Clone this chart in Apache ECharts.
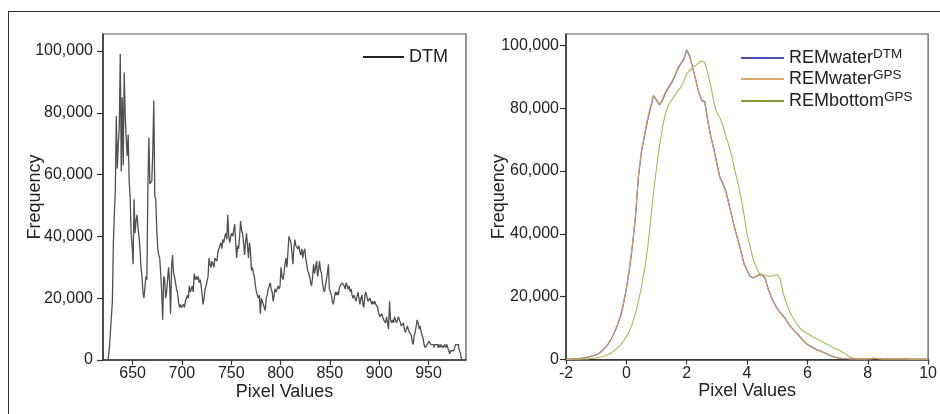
<!DOCTYPE html>
<html>
<head>
<meta charset="utf-8">
<script src="https://cdn.jsdelivr.net/npm/echarts@6/dist/echarts.min.js"></script>
<style>
  html, body { margin: 0; padding: 0; background: #fff; }
  #chart { width: 940px; height: 414px; }
</style>
</head>
<body>
<div id="chart"></div>
<script>
// ---- Left panel: DTM histogram (counts in thousands, one bin per pixel value) ----
const dtmFirstBin = 625;
const dtmCountsK = [
  0,1,4,9,14,19,38,47,55,79,
  62,70,75,99,61,85,63,93,79,72,
  66,73,58,53,41,37,31,52,41,45,
  47,43,40,36,30,27,22,20,20,27,
  26,56,72,57,57,58,68,84,53,52,
  42,36,34,33,28,22,13,27,26,20,
  22,22,30,25,15,30,34,28,27,25,
  23,22,19,17,18,17,17,18,17,19,
  19,21,20,24,22,23,24,22,28,26,
  27,26,27,25,26,24,21,18,20,23,
  24,24,27,33,31,30,32,31,30,33,
  33,32,35,36,37,38,36,39,38,40,
  41,39,47,40,38,40,41,40,42,44,
  38,33,37,36,40,45,42,41,38,34,
  38,41,37,33,38,35,29,30,28,27,
  24,22,21,20,21,15,20,19,19,17,
  16,20,21,23,24,25,23,22,19,21,
  23,22,22,24,23,24,30,27,26,28,
  31,33,30,35,40,39,38,35,31,36,
  39,37,37,36,37,35,34,36,33,35,
  36,33,31,29,28,27,25,24,27,31,
  28,30,32,27,29,32,29,28,25,23,
  22,24,26,28,31,23,22,21,19,18,
  20,22,21,22,21,23,24,24,25,25,
  24,23,25,24,23,24,22,23,21,20,
  21,21,19,19,22,20,18,20,21,18,
  17,21,22,22,19,19,20,20,18,19,
  18,19,18,18,17,15,14,14,15,14,
  13,13,12,14,12,10,19,13,12,13,
  12,14,13,12,13,14,13,12,11,11,
  12,10,9,10,11,10,9,9,8,6,
  5,8,9,11,13,12,10,11,9,8,
  7,5,4,4,5,5,6,6,5,5,
  5,4,5,5,5,4,5,4,5,5,
  4,4,5,4,5,4,3,2,3,3,
  3,3,4,5,5,5,4,4,2,0
];
const dtmTicks = [650, 700, 750, 800, 850, 900, 950];

// ---- Right panel: REM histograms (counts in thousands, bins of 0.1 from -2 to 10) ----
const remFirstBin = -2;
const remBinWidth = 0.1;
const remWaterDtmK = [
  0.1,0.1,0.2,0.2,0.3,0.4,0.5,0.7,0.9,1.2,
  1.5,2.0,2.8,3.8,5.0,6.5,8.5,10.8,13.5,17.5,
  22.5,28.5,36,45,58,66,71,76,80,84,
  82.5,81,82.5,85,86.5,88,90,92.5,94,95.5,
  98.5,96.5,93,89,85,82.5,82,76,71,67,
  62.5,58,56,53.5,49.5,45.5,41.5,38,34.5,30.5,
  28.5,26.5,26,26.5,27,27,25.8,22.5,20,18,
  16.2,15,13.8,12.5,11,9.9,8.8,7.8,6.7,5.7,
  4.8,4.2,3.7,3.2,2.8,2.4,2.0,1.5,1.1,0.8,
  0.5,0.4,0.3,0.3,0.2,0.2,0.2,0.2,0.2,0.2,
  0.3,0.3,0.4,0.3,0.3,0.2,0.2,0.2,0.2,0.2,
  0.2,0.2,0.2,0.2,0.1,0.1,0.1,0.1,0.1,0.1,
  0.1
];
const remWaterGpsK = [
  0.1,0.1,0.2,0.2,0.3,0.4,0.5,0.7,1.0,1.3,
  1.6,2.1,2.9,3.9,5.1,6.6,8.6,11.0,13.8,17.8,
  22.8,29,36.5,45.5,58.5,66.5,71.5,76.5,80.5,84,
  82.8,81.2,82.8,85.3,86.8,88.3,90.3,92.8,94.2,95.8,
  98.3,96.2,92.8,88.8,84.8,82.3,81.8,75.8,70.8,66.8,
  62.2,57.8,55.8,53.2,49.2,45.2,41.2,37.8,34.2,30.3,
  28.3,26.4,25.9,26.4,26.9,26.9,25.6,22.3,19.8,17.9,
  16.1,14.9,13.7,12.4,10.9,9.8,8.7,7.7,6.6,5.6,
  4.7,4.1,3.6,3.1,2.7,2.3,1.9,1.4,1.0,0.7,
  0.5,0.4,0.3,0.3,0.2,0.2,0.2,0.2,0.2,0.2,
  0.3,0.3,0.4,0.3,0.3,0.2,0.2,0.2,0.2,0.2,
  0.2,0.2,0.2,0.2,0.1,0.1,0.1,0.1,0.1,0.1,
  0.1
];
const remBottomGpsK = [
  0,0,0.1,0.1,0.1,0.1,0.2,0.2,0.3,0.4,
  0.5,0.7,0.9,1.2,1.6,2.1,2.8,3.7,4.6,5.8,
  7.2,9.0,11.5,14.5,18.5,23,28.5,35,44,53,
  61,68,74,78.5,81,82.5,84,85.5,86.5,88.5,
  91,92,93,93.5,94.5,95,94.5,91,87,82,
  78.5,77,74.5,71,68,64.5,60,56,51.5,46,
  40,36,32,29.5,27.5,27,26.8,26.5,26.5,26.8,
  27,25.5,21,18,15.5,13.6,12,10.6,9.4,8.8,
  8.3,7.7,7.1,6.6,6.1,5.6,5.1,4.6,4.1,3.6,
  3.2,2.7,2.1,1.5,0.9,0.5,0.3,0.2,0.2,0.2,
  0.2,0.2,0.3,0.3,0.2,0.2,0.2,0.2,0.2,0.2,
  0.2,0.2,0.2,0.1,0.1,0.1,0.1,0.1,0.1,0.1,
  0.1
];
const remTicks = [-2, 0, 2, 4, 6, 8, 10];
const freqTicks = [0, 20000, 40000, 60000, 80000, 100000];
const legendLabels = {
  DTM: ['DTM', ''],
  REMwaterDTM: ['REMwater', 'DTM'],
  REMwaterGPS: ['REMwater', 'GPS'],
  REMbottomGPS: ['REMbottom', 'GPS']
};

const FONT = '"Liberation Sans", Arial, sans-serif';

function toPairs(first, step, valuesK) {
  return valuesK.map((v, i) => [+(first + i * step).toFixed(2), v * 1000]);
}

const chart = echarts.init(document.getElementById('chart'), null, { renderer: 'canvas' });

const fmtThousands = v => Math.round(v).toLocaleString('en-US');

function yAxisFor(gridIndex, margin, nameGap, max) {
  return {
    type: 'value', gridIndex, min: 0, max,
    name: 'Frequency', nameLocation: 'middle', nameGap, nameMoveOverlap: false,
    nameTextStyle: { fontFamily: FONT, fontSize: 18, color: '#222' },
    axisLine: { show: true, onZero: false, lineStyle: { color: '#333', width: 1.5 } },
    axisTick: { show: true, length: 6, customValues: freqTicks, lineStyle: { color: '#333', width: 1.2 } },
    axisLabel: { customValues: freqTicks, margin, fontFamily: FONT, fontSize: 16, color: '#222', formatter: fmtThousands },
    splitLine: { show: false }
  };
}

function xAxisFor(gridIndex, min, max, ticks) {
  return {
    type: 'value', gridIndex, min, max,
    name: 'Pixel Values', nameLocation: 'middle', nameGap: 23, nameMoveOverlap: false,
    nameTextStyle: { fontFamily: FONT, fontSize: 18, color: '#222' },
    axisLine: { show: true, onZero: false, lineStyle: { color: '#333', width: 1.5 } },
    axisTick: { show: true, length: 5, customValues: ticks, lineStyle: { color: '#333', width: 1.2 } },
    axisLabel: { customValues: ticks, margin: 6, fontFamily: FONT, fontSize: 16, color: '#222' },
    splitLine: { show: false }
  };
}

function legendAt(left, top, name, itemWidth, lineColor) {
  return {
    left, top, orient: 'horizontal', selectedMode: false, padding: 0,
    itemWidth, itemHeight: 20, itemGap: 0,
    data: [{ name, lineStyle: { color: lineColor, width: 2 }, itemStyle: { opacity: 0 } }],
    formatter: n => {
      const parts = legendLabels[n];
      return parts[1] ? '{m|' + parts[0] + '}{s|' + parts[1] + '}' : '{m|' + parts[0] + '}';
    },
    textStyle: {
      fontFamily: FONT, color: '#222',
      rich: {
        m: { fontFamily: FONT, fontSize: 18, lineHeight: 22, color: '#222', verticalAlign: 'middle' },
        s: { fontFamily: FONT, fontSize: 13.5, lineHeight: 13, color: '#222', verticalAlign: 'top' }
      }
    }
  };
}

chart.setOption({
  animation: false,
  backgroundColor: '#fff',
  grid: [
    { left: 103, top: 34, width: 363, height: 326, show: true, borderColor: '#555', borderWidth: 1.2, backgroundColor: 'transparent' },
    { left: 566, top: 34, width: 363, height: 325.5, show: true, borderColor: '#555', borderWidth: 1.2, backgroundColor: 'transparent' }
  ],
  xAxis: [
    xAxisFor(0, 620, 988, dtmTicks),
    xAxisFor(1, -2, 10, remTicks)
  ],
  yAxis: [
    yAxisFor(0, 10, 59, 105500),
    yAxisFor(1, 7, 58, 103600)
  ],
  legend: [
    legendAt(362, 48, 'DTM', 41, '#222'),
    legendAt(740, 47, 'REMwaterDTM', 43, '#4b4fb4'),
    legendAt(740, 68, 'REMwaterGPS', 43, '#d9a866'),
    legendAt(740, 90, 'REMbottomGPS', 43, '#899a38')
  ],
  series: [
    {
      name: 'DTM', type: 'line', xAxisIndex: 0, yAxisIndex: 0,
      step: 'middle', symbol: 'none', silent: true,
      lineStyle: { color: '#505050', width: 1.3 },
      itemStyle: { color: '#505050' },
      data: toPairs(dtmFirstBin, 1, dtmCountsK)
    },
    {
      name: 'REMwaterDTM', type: 'line', xAxisIndex: 1, yAxisIndex: 1,
      symbol: 'none', silent: true,
      lineStyle: { color: '#5356c2', width: 1.2 },
      itemStyle: { color: '#5356c2' },
      data: toPairs(remFirstBin, remBinWidth, remWaterDtmK)
    },
    {
      name: 'REMbottomGPS', type: 'line', xAxisIndex: 1, yAxisIndex: 1,
      symbol: 'none', silent: true,
      lineStyle: { color: '#a6b85c', width: 1.1 },
      itemStyle: { color: '#a6b85c' },
      data: toPairs(remFirstBin, remBinWidth, remBottomGpsK)
    },
    {
      name: 'REMwaterGPS', type: 'line', xAxisIndex: 1, yAxisIndex: 1,
      symbol: 'none', silent: true,
      lineStyle: { color: '#cf9f62', width: 1.1 },
      itemStyle: { color: '#cf9f62' },
      data: toPairs(remFirstBin, remBinWidth, remWaterGpsK)
    }
  ],
  graphic: [
    // figure frame: top and left rules
    { type: 'line', silent: true, shape: { x1: 8, y1: 11.5, x2: 940, y2: 11.5 }, style: { stroke: '#333', lineWidth: 1 } },
    { type: 'line', silent: true, shape: { x1: 8.5, y1: 11, x2: 8.5, y2: 414 }, style: { stroke: '#333', lineWidth: 1 } }
  ]
});
</script>
</body>
</html>
